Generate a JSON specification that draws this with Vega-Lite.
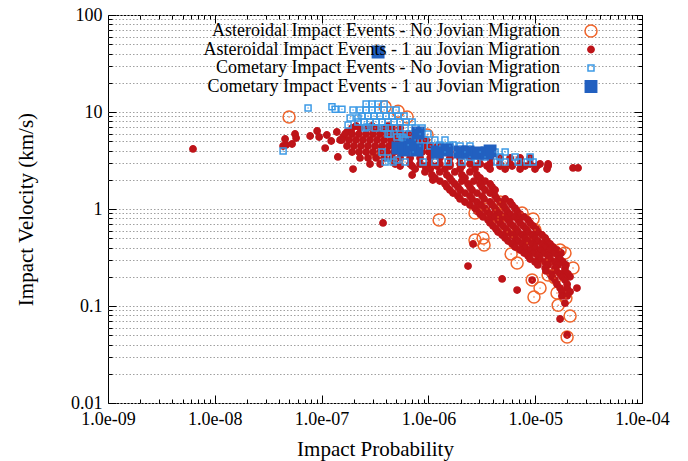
{
  "$schema": "https://vega.github.io/schema/vega-lite/v6.json",
  "width": 534,
  "height": 388,
  "autosize": {"type": "none"},
  "padding": {"left": 108, "top": 15, "right": 46, "bottom": 58},
  "background": "white",
  "config": {
    "font": "Liberation Serif",
    "view": {"stroke": "black", "strokeWidth": 1},
    "axis": {"labelFont": "Liberation Serif", "titleFont": "Liberation Serif", "labelColor": "black", "titleColor": "black", "titleFontWeight": "normal", "tickColor": "black", "domain": false, "labelOverlap": false, "labelFlush": false},
    "legend": {
      "orient": "none", "legendX": 474, "legendY": 7, "padding": 0,
      "labelFont": "Liberation Serif", "labelFontSize": 18, "labelColor": "black",
      "labelAlign": "right", "labelOffset": -40, "labelLimit": 0, "rowPadding": 0.5,
      "symbolStrokeWidth": 1.5, "title": null
    }
  },
  "data": {"values": [
    {"s":"a","p":4.96e-8,"v":8.87},{"s":"a","p":3.93e-7,"v":11.3},{"s":"a","p":5.20e-7,"v":10.2},{"s":"a","p":6.32e-7,"v":8.87},
    {"s":"a","p":9.72e-7,"v":5.79},{"s":"a","p":3.31e-7,"v":3.78},{"s":"a","p":5.08e-7,"v":3.20},{"s":"a","p":1.26e-6,"v":0.77},
    {"s":"a","p":2.73e-6,"v":0.91},{"s":"a","p":3.54e-6,"v":1.0},{"s":"a","p":4.69e-6,"v":1.18},{"s":"a","p":4.49e-6,"v":0.828},
    {"s":"a","p":7.54e-6,"v":0.91},{"s":"a","p":9.56e-6,"v":0.789},{"s":"a","p":2.73e-6,"v":0.479},{"s":"a","p":3.25e-6,"v":0.502},
    {"s":"a","p":3.32e-6,"v":0.426},{"s":"a","p":5.95e-6,"v":0.344},{"s":"a","p":6.08e-6,"v":0.514},{"s":"a","p":6.77e-6,"v":0.277},
    {"s":"a","p":5.46e-6,"v":0.579},{"s":"a","p":9.36e-6,"v":0.185},{"s":"a","p":1.11e-5,"v":0.153},{"s":"a","p":9.74e-6,"v":0.124},
    {"s":"a","p":1.60e-5,"v":0.136},{"s":"a","p":1.64e-5,"v":0.102},{"s":"a","p":2.12e-5,"v":0.0788},{"s":"a","p":1.99e-5,"v":0.0479},
    {"s":"a","p":2.26e-5,"v":0.246},{"s":"a","p":1.71e-5,"v":0.378},{"s":"a","p":1.47e-5,"v":0.235},{"s":"a","p":1.32e-5,"v":0.209},
    {"s":"a","p":1.29e-5,"v":0.298},{"s":"a","p":8.40e-6,"v":0.446},{"s":"a","p":9.96e-6,"v":0.608},{"s":"a","p":1.90e-5,"v":0.352},
    {"s":"a","p":5.00e-6,"v":0.867},{"s":"a","p":4.21e-6,"v":0.977},{"s":"a","p":1.94e-5,"v":0.121},{"s":"a","p":1.53e-5,"v":0.194},
    {"s":"a","p":4.49e-6,"v":0.77},

    {"s":"b","p":6.25e-9,"v":4.16},{"s":"b","p":4.36e-8,"v":4.46},{"s":"b","p":4.55e-8,"v":5.27},{"s":"b","p":4.65e-8,"v":4.57},
    {"s":"b","p":5.29e-8,"v":4.68},{"s":"b","p":5.64e-8,"v":5.93},{"s":"b","p":5.77e-8,"v":5.39},{"s":"b","p":7.81e-8,"v":5.66},
    {"s":"b","p":9.08e-8,"v":6.37},{"s":"b","p":9.48e-8,"v":5.52},{"s":"b","p":1.08e-7,"v":4.25},{"s":"b","p":1.12e-7,"v":5.79},
    {"s":"b","p":1.23e-7,"v":5.02},{"s":"b","p":1.39e-7,"v":6.22},{"s":"b","p":1.42e-7,"v":3.44},{"s":"b","p":1.49e-7,"v":5.14},
    {"s":"b","p":1.59e-7,"v":5.52},{"s":"b","p":1.73e-7,"v":6.22},{"s":"b","p":1.97e-7,"v":2.58},
    {"s":"b","p":2.10e-7,"v":7.17},{"s":"b","p":2.96e-7,"v":7.17},{"s":"b","p":4.19e-7,"v":7.17},
    {"s":"b","p":1.93e-7,"v":6.84},{"s":"b","p":2.29e-7,"v":6.84},{"s":"b","p":2.72e-7,"v":6.84},{"s":"b","p":3.24e-7,"v":6.84},{"s":"b","p":3.85e-7,"v":6.84},{"s":"b","p":4.57e-7,"v":6.84},{"s":"b","p":5.43e-7,"v":6.84},
    {"s":"b","p":1.66e-7,"v":5.93},{"s":"b","p":1.93e-7,"v":5.93},{"s":"b","p":2.24e-7,"v":5.93},{"s":"b","p":2.61e-7,"v":5.93},{"s":"b","p":3.03e-7,"v":5.93},{"s":"b","p":3.53e-7,"v":5.93},{"s":"b","p":4.10e-7,"v":5.93},{"s":"b","p":4.77e-7,"v":5.93},{"s":"b","p":5.55e-7,"v":5.93},{"s":"b","p":6.46e-7,"v":5.93},{"s":"b","p":7.51e-7,"v":5.93},
    {"s":"b","p":1.55e-7,"v":5.14},{"s":"b","p":1.81e-7,"v":5.14},{"s":"b","p":2.10e-7,"v":5.14},{"s":"b","p":2.44e-7,"v":5.14},{"s":"b","p":2.84e-7,"v":5.14},{"s":"b","p":3.31e-7,"v":5.14},{"s":"b","p":3.85e-7,"v":5.14},{"s":"b","p":4.47e-7,"v":5.14},{"s":"b","p":5.20e-7,"v":5.14},{"s":"b","p":6.05e-7,"v":5.14},{"s":"b","p":7.04e-7,"v":5.14},{"s":"b","p":8.19e-7,"v":5.14},{"s":"b","p":9.52e-7,"v":5.14},
    {"s":"b","p":1.73e-7,"v":4.46},{"s":"b","p":2.01e-7,"v":4.46},{"s":"b","p":2.34e-7,"v":4.46},{"s":"b","p":2.72e-7,"v":4.46},{"s":"b","p":3.17e-7,"v":4.46},{"s":"b","p":3.68e-7,"v":4.46},{"s":"b","p":4.28e-7,"v":4.46},{"s":"b","p":4.98e-7,"v":4.46},{"s":"b","p":5.80e-7,"v":4.46},{"s":"b","p":6.74e-7,"v":4.46},{"s":"b","p":7.84e-7,"v":4.46},{"s":"b","p":9.12e-7,"v":4.46},{"s":"b","p":1.06e-6,"v":4.46},{"s":"b","p":1.23e-6,"v":4.46},
    {"s":"b","p":1.93e-7,"v":3.87},{"s":"b","p":2.24e-7,"v":3.87},{"s":"b","p":2.61e-7,"v":3.87},{"s":"b","p":3.03e-7,"v":3.87},{"s":"b","p":3.53e-7,"v":3.87},{"s":"b","p":4.10e-7,"v":3.87},{"s":"b","p":4.77e-7,"v":3.87},{"s":"b","p":5.55e-7,"v":3.87},{"s":"b","p":6.46e-7,"v":3.87},{"s":"b","p":7.51e-7,"v":3.87},{"s":"b","p":8.73e-7,"v":3.87},{"s":"b","p":1.01e-6,"v":3.87},{"s":"b","p":1.18e-6,"v":3.87},{"s":"b","p":1.37e-6,"v":3.87},{"s":"b","p":1.59e-6,"v":3.87},
    {"s":"b","p":2.29e-7,"v":3.36},{"s":"b","p":2.72e-7,"v":3.36},{"s":"b","p":3.24e-7,"v":3.36},{"s":"b","p":3.85e-7,"v":3.36},{"s":"b","p":4.57e-7,"v":3.36},{"s":"b","p":5.43e-7,"v":3.36},{"s":"b","p":6.74e-7,"v":3.36},{"s":"b","p":8.36e-7,"v":3.36},{"s":"b","p":1.04e-6,"v":3.36},{"s":"b","p":1.28e-6,"v":3.36},{"s":"b","p":1.59e-6,"v":3.36},{"s":"b","p":1.98e-6,"v":3.36},{"s":"b","p":2.45e-6,"v":3.36},{"s":"b","p":3.05e-6,"v":3.36},{"s":"b","p":3.78e-6,"v":3.36},{"s":"b","p":4.69e-6,"v":3.36},{"s":"b","p":5.82e-6,"v":3.36},{"s":"b","p":7.22e-6,"v":3.36},{"s":"b","p":8.96e-6,"v":3.36},
    {"s":"b","p":2.84e-7,"v":2.91},{"s":"b","p":3.53e-7,"v":2.91},{"s":"b","p":4.88e-7,"v":2.91},{"s":"b","p":6.74e-7,"v":2.91},{"s":"b","p":8.36e-7,"v":2.91},{"s":"b","p":1.04e-6,"v":2.91},{"s":"b","p":1.28e-6,"v":2.91},{"s":"b","p":1.59e-6,"v":2.91},{"s":"b","p":1.98e-6,"v":2.91},{"s":"b","p":2.45e-6,"v":2.91},{"s":"b","p":3.05e-6,"v":2.91},{"s":"b","p":3.78e-6,"v":2.91},{"s":"b","p":4.69e-6,"v":2.91},{"s":"b","p":5.82e-6,"v":2.91},{"s":"b","p":7.22e-6,"v":2.91},{"s":"b","p":8.96e-6,"v":2.91},{"s":"b","p":1.11e-5,"v":2.91},{"s":"b","p":1.32e-5,"v":2.91},
    {"s":"b","p":5.43e-7,"v":2.77},{"s":"b","p":7.04e-7,"v":2.77},{"s":"b","p":9.29e-7,"v":2.77},{"s":"b","p":1.20e-6,"v":2.77},{"s":"b","p":1.59e-6,"v":2.77},{"s":"b","p":2.06e-6,"v":2.77},{"s":"b","p":2.73e-6,"v":2.77},{"s":"b","p":3.54e-6,"v":2.77},{"s":"b","p":4.69e-6,"v":2.77},{"s":"b","p":6.08e-6,"v":2.77},{"s":"b","p":8.04e-6,"v":2.77},{"s":"b","p":1.04e-5,"v":2.77},{"s":"b","p":1.32e-5,"v":2.77},
    {"s":"b","p":7.51e-7,"v":2.58},{"s":"b","p":1.04e-6,"v":2.58},{"s":"b","p":1.43e-6,"v":2.58},{"s":"b","p":1.98e-6,"v":2.58},{"s":"b","p":2.73e-6,"v":2.58},{"s":"b","p":3.78e-6,"v":2.58},{"s":"b","p":5.23e-6,"v":2.58},{"s":"b","p":7.22e-6,"v":2.58},{"s":"b","p":9.96e-6,"v":2.58},{"s":"b","p":1.29e-5,"v":2.58},
    {"s":"b","p":2.26e-5,"v":2.65},{"s":"b","p":2.52e-5,"v":2.65},
    {"s":"b","p":7.04e-7,"v":2.24},{"s":"b","p":1.10e-6,"v":1.99},{"s":"b","p":3.76e-7,"v":0.718},{"s":"b","p":2.35e-6,"v":0.258},{"s":"b","p":4.90e-6,"v":0.19},{"s":"b","p":6.77e-6,"v":0.146},{"s":"b","p":9.36e-6,"v":0.185},{"s":"b","p":2.62e-6,"v":0.436},
    {"s":"b","p":9.29e-7,"v":2.41},{"s":"b","p":1.28e-6,"v":2.41},{"s":"b","p":1.77e-6,"v":2.41},{"s":"b","p":2.45e-6,"v":2.41},
    {"s":"b","p":1.08e-6,"v":2.24},{"s":"b","p":1.49e-6,"v":2.24},{"s":"b","p":2.06e-6,"v":2.24},{"s":"b","p":2.85e-6,"v":2.24},
    {"s":"b","p":1.15e-6,"v":2.09},{"s":"b","p":1.59e-6,"v":2.09},{"s":"b","p":2.20e-6,"v":2.09},{"s":"b","p":3.05e-6,"v":2.09},
    {"s":"b","p":1.28e-6,"v":1.94},{"s":"b","p":1.66e-6,"v":1.94},{"s":"b","p":2.06e-6,"v":1.94},{"s":"b","p":2.67e-6,"v":1.94},{"s":"b","p":3.39e-6,"v":1.94},
    {"s":"b","p":1.43e-6,"v":1.81},{"s":"b","p":1.77e-6,"v":1.81},{"s":"b","p":2.35e-6,"v":1.81},{"s":"b","p":3.05e-6,"v":1.81},{"s":"b","p":3.78e-6,"v":1.81},
    {"s":"b","p":1.49e-6,"v":1.69},{"s":"b","p":1.89e-6,"v":1.69},{"s":"b","p":2.45e-6,"v":1.69},{"s":"b","p":3.18e-6,"v":1.69},{"s":"b","p":3.95e-6,"v":1.69},
    {"s":"b","p":1.59e-6,"v":1.57},{"s":"b","p":1.98e-6,"v":1.57},{"s":"b","p":2.56e-6,"v":1.57},{"s":"b","p":3.39e-6,"v":1.57},{"s":"b","p":4.21e-6,"v":1.57},
    {"s":"b","p":1.70e-6,"v":1.46},{"s":"b","p":2.20e-6,"v":1.46},{"s":"b","p":2.85e-6,"v":1.46},{"s":"b","p":3.78e-6,"v":1.46},
    {"s":"b","p":1.89e-6,"v":1.36},{"s":"b","p":2.45e-6,"v":1.36},{"s":"b","p":3.18e-6,"v":1.36},{"s":"b","p":4.21e-6,"v":1.36},
    {"s":"b","p":1.98e-6,"v":1.27},{"s":"b","p":2.56e-6,"v":1.27},{"s":"b","p":3.32e-6,"v":1.27},{"s":"b","p":4.39e-6,"v":1.27},{"s":"b","p":5.23e-6,"v":1.27},
    {"s":"b","p":2.20e-6,"v":1.18},{"s":"b","p":2.85e-6,"v":1.18},{"s":"b","p":3.78e-6,"v":1.18},{"s":"b","p":4.69e-6,"v":1.18},{"s":"b","p":5.82e-6,"v":1.18},
    {"s":"b","p":2.45e-6,"v":1.10},{"s":"b","p":3.11e-6,"v":1.10},{"s":"b","p":3.95e-6,"v":1.10},{"s":"b","p":5.00e-6,"v":1.10},{"s":"b","p":6.08e-6,"v":1.10},
    {"s":"b","p":2.73e-6,"v":1.02},{"s":"b","p":3.39e-6,"v":1.02},{"s":"b","p":4.21e-6,"v":1.02},{"s":"b","p":5.23e-6,"v":1.02},{"s":"b","p":6.48e-6,"v":1.02},
    {"s":"b","p":2.85e-6,"v":0.95},{"s":"b","p":3.54e-6,"v":0.95},{"s":"b","p":4.39e-6,"v":0.95},{"s":"b","p":5.46e-6,"v":0.95},{"s":"b","p":6.77e-6,"v":0.95},
    {"s":"b","p":3.05e-6,"v":0.887},{"s":"b","p":3.78e-6,"v":0.887},{"s":"b","p":4.69e-6,"v":0.887},{"s":"b","p":5.82e-6,"v":0.887},{"s":"b","p":7.22e-6,"v":0.887},
    {"s":"b","p":3.25e-6,"v":0.828},{"s":"b","p":4.12e-6,"v":0.828},{"s":"b","p":5.11e-6,"v":0.828},{"s":"b","p":6.34e-6,"v":0.828},{"s":"b","p":7.87e-6,"v":0.828},
    {"s":"b","p":3.62e-6,"v":0.77},{"s":"b","p":4.49e-6,"v":0.77},{"s":"b","p":5.58e-6,"v":0.77},{"s":"b","p":6.92e-6,"v":0.77},{"s":"b","p":8.58e-6,"v":0.77},
    {"s":"b","p":3.78e-6,"v":0.718},{"s":"b","p":4.69e-6,"v":0.718},{"s":"b","p":5.82e-6,"v":0.718},{"s":"b","p":7.22e-6,"v":0.718},{"s":"b","p":8.96e-6,"v":0.718},
    {"s":"b","p":4.03e-6,"v":0.668},{"s":"b","p":5.00e-6,"v":0.668},{"s":"b","p":6.21e-6,"v":0.668},{"s":"b","p":7.71e-6,"v":0.668},{"s":"b","p":9.56e-6,"v":0.668},
    {"s":"b","p":4.30e-6,"v":0.62},{"s":"b","p":5.34e-6,"v":0.62},{"s":"b","p":6.63e-6,"v":0.62},{"s":"b","p":8.22e-6,"v":0.62},{"s":"b","p":1.02e-5,"v":0.62},
    {"s":"b","p":4.49e-6,"v":0.579},{"s":"b","p":5.58e-6,"v":0.579},{"s":"b","p":6.92e-6,"v":0.579},{"s":"b","p":8.58e-6,"v":0.579},{"s":"b","p":1.06e-5,"v":0.579},
    {"s":"b","p":4.90e-6,"v":0.54},{"s":"b","p":6.08e-6,"v":0.54},{"s":"b","p":7.54e-6,"v":0.54},{"s":"b","p":9.36e-6,"v":0.54},{"s":"b","p":1.16e-5,"v":0.54},
    {"s":"b","p":5.23e-6,"v":0.502},{"s":"b","p":6.48e-6,"v":0.502},{"s":"b","p":8.04e-6,"v":0.502},{"s":"b","p":9.96e-6,"v":0.502},{"s":"b","p":1.24e-5,"v":0.502},
    {"s":"b","p":5.58e-6,"v":0.467},{"s":"b","p":6.92e-6,"v":0.467},{"s":"b","p":8.58e-6,"v":0.467},{"s":"b","p":1.06e-5,"v":0.467},{"s":"b","p":1.29e-5,"v":0.467},
    {"s":"b","p":6.08e-6,"v":0.436},{"s":"b","p":7.54e-6,"v":0.436},{"s":"b","p":9.36e-6,"v":0.436},{"s":"b","p":1.16e-5,"v":0.436},{"s":"b","p":1.38e-5,"v":0.436},
    {"s":"b","p":6.48e-6,"v":0.406},{"s":"b","p":8.04e-6,"v":0.406},{"s":"b","p":9.96e-6,"v":0.406},{"s":"b","p":1.24e-5,"v":0.406},{"s":"b","p":1.47e-5,"v":0.406},
    {"s":"b","p":7.22e-6,"v":0.378},{"s":"b","p":8.96e-6,"v":0.378},{"s":"b","p":1.11e-5,"v":0.378},{"s":"b","p":1.38e-5,"v":0.378},{"s":"b","p":1.60e-5,"v":0.378},
    {"s":"b","p":7.87e-6,"v":0.352},{"s":"b","p":9.74e-6,"v":0.352},{"s":"b","p":1.21e-5,"v":0.352},{"s":"b","p":1.50e-5,"v":0.352},{"s":"b","p":1.75e-5,"v":0.352},
    {"s":"b","p":8.58e-6,"v":0.327},{"s":"b","p":1.06e-5,"v":0.327},{"s":"b","p":1.32e-5,"v":0.327},{"s":"b","p":1.64e-5,"v":0.327},
    {"s":"b","p":8.96e-6,"v":0.305},{"s":"b","p":1.11e-5,"v":0.305},{"s":"b","p":1.38e-5,"v":0.305},{"s":"b","p":1.71e-5,"v":0.305},
    {"s":"b","p":9.96e-6,"v":0.284},{"s":"b","p":1.24e-5,"v":0.284},{"s":"b","p":1.53e-5,"v":0.284},{"s":"b","p":1.82e-5,"v":0.284},
    {"s":"b","p":1.06e-5,"v":0.265},{"s":"b","p":1.32e-5,"v":0.265},{"s":"b","p":1.64e-5,"v":0.265},{"s":"b","p":1.94e-5,"v":0.265},
    {"s":"b","p":1.24e-5,"v":0.246},{"s":"b","p":1.53e-5,"v":0.246},{"s":"b","p":1.90e-5,"v":0.246},
    {"s":"b","p":1.26e-5,"v":0.23},{"s":"b","p":1.57e-5,"v":0.23},{"s":"b","p":1.90e-5,"v":0.23},
    {"s":"b","p":1.38e-5,"v":0.214},{"s":"b","p":1.71e-5,"v":0.214},{"s":"b","p":2.03e-5,"v":0.214},
    {"s":"b","p":1.44e-5,"v":0.2},{"s":"b","p":1.78e-5,"v":0.2},{"s":"b","p":2.12e-5,"v":0.2},
    {"s":"b","p":1.53e-5,"v":0.185},{"s":"b","p":1.90e-5,"v":0.185},
    {"s":"b","p":1.60e-5,"v":0.168},{"s":"b","p":1.99e-5,"v":0.168},
    {"s":"b","p":1.71e-5,"v":0.153},{"s":"b","p":1.99e-5,"v":0.153},{"s":"b","p":2.46e-5,"v":0.153},
    {"s":"b","p":1.78e-5,"v":0.14},{"s":"b","p":2.12e-5,"v":0.14},
    {"s":"b","p":1.78e-5,"v":0.127},{"s":"b","p":1.99e-5,"v":0.127},{"s":"b","p":1.90e-5,"v":0.107},
    {"s":"b","p":1.71e-5,"v":0.0734},{"s":"b","p":1.99e-5,"v":0.0502},

    {"s":"c","p":4.36e-8,"v":3.96},{"s":"c","p":7.47e-8,"v":11.0},{"s":"c","p":1.25e-7,"v":11.3},{"s":"c","p":1.34e-7,"v":10.7},
    {"s":"c","p":1.55e-7,"v":10.7},{"s":"c","p":1.97e-7,"v":10.5},{"s":"c","p":1.85e-7,"v":8.67},{"s":"c","p":1.77e-7,"v":7.35},{"s":"c","p":2.19e-7,"v":8.67},
    {"s":"c","p":2.61e-7,"v":12.1},{"s":"c","p":2.96e-7,"v":12.1},{"s":"c","p":3.38e-7,"v":12.1},{"s":"c","p":3.85e-7,"v":12.1},
    {"s":"c","p":2.29e-7,"v":10.5},{"s":"c","p":2.61e-7,"v":10.5},{"s":"c","p":2.96e-7,"v":10.5},{"s":"c","p":3.38e-7,"v":10.5},{"s":"c","p":3.85e-7,"v":10.5},{"s":"c","p":4.38e-7,"v":10.5},{"s":"c","p":4.98e-7,"v":10.5},
    {"s":"c","p":2.39e-7,"v":9.10},{"s":"c","p":2.72e-7,"v":9.10},{"s":"c","p":3.09e-7,"v":9.10},{"s":"c","p":3.53e-7,"v":9.10},{"s":"c","p":4.01e-7,"v":9.10},{"s":"c","p":4.57e-7,"v":9.10},{"s":"c","p":5.20e-7,"v":9.10},{"s":"c","p":5.92e-7,"v":9.10},
    {"s":"c","p":2.19e-7,"v":7.88},{"s":"c","p":2.50e-7,"v":7.88},{"s":"c","p":2.84e-7,"v":7.88},{"s":"c","p":3.24e-7,"v":7.88},{"s":"c","p":3.68e-7,"v":7.88},{"s":"c","p":4.19e-7,"v":7.88},{"s":"c","p":4.77e-7,"v":7.88},{"s":"c","p":5.43e-7,"v":7.88},{"s":"c","p":6.18e-7,"v":7.88},{"s":"c","p":7.04e-7,"v":7.88},
    {"s":"c","p":2.55e-7,"v":6.84},{"s":"c","p":3.17e-7,"v":6.84},{"s":"c","p":3.93e-7,"v":6.84},{"s":"c","p":4.88e-7,"v":6.84},{"s":"c","p":6.05e-7,"v":6.84},{"s":"c","p":7.51e-7,"v":6.84},{"s":"c","p":8.73e-7,"v":6.84},
    {"s":"c","p":4.38e-7,"v":5.93},{"s":"c","p":5.43e-7,"v":5.93},{"s":"c","p":6.74e-7,"v":5.93},{"s":"c","p":8.36e-7,"v":5.93},{"s":"c","p":9.90e-7,"v":5.93},
    {"s":"c","p":6.05e-7,"v":5.14},{"s":"c","p":7.51e-7,"v":5.14},{"s":"c","p":9.29e-7,"v":5.14},{"s":"c","p":1.15e-6,"v":5.14},{"s":"c","p":1.43e-6,"v":5.14},
    {"s":"c","p":8.36e-7,"v":4.46},{"s":"c","p":1.04e-6,"v":4.46},{"s":"c","p":1.28e-6,"v":4.46},{"s":"c","p":1.59e-6,"v":4.46},{"s":"c","p":1.98e-6,"v":4.46},{"s":"c","p":2.45e-6,"v":4.46},
    {"s":"c","p":1.43e-6,"v":3.87},{"s":"c","p":1.77e-6,"v":3.87},{"s":"c","p":2.20e-6,"v":3.87},{"s":"c","p":3.05e-6,"v":3.87},{"s":"c","p":4.21e-6,"v":3.87},{"s":"c","p":5.23e-6,"v":3.87},
    {"s":"c","p":2.45e-6,"v":3.44},{"s":"c","p":3.39e-6,"v":3.44},{"s":"c","p":4.69e-6,"v":3.44},{"s":"c","p":6.48e-6,"v":3.44},{"s":"c","p":8.96e-6,"v":3.44},
    {"s":"c","p":3.93e-7,"v":3.05},{"s":"c","p":4.67e-7,"v":3.05},{"s":"c","p":6.05e-7,"v":3.05},{"s":"c","p":8.92e-7,"v":3.05},{"s":"c","p":1.15e-6,"v":3.05},{"s":"c","p":1.53e-6,"v":3.05},{"s":"c","p":2.06e-6,"v":3.05},{"s":"c","p":2.85e-6,"v":3.05},{"s":"c","p":4.39e-6,"v":3.05},{"s":"c","p":5.23e-6,"v":3.05},{"s":"c","p":6.92e-6,"v":3.05},{"s":"c","p":8.40e-6,"v":3.05},{"s":"c","p":9.56e-6,"v":3.05},
    {"s":"c","p":2.66e-7,"v":7.0},{"s":"c","p":3.76e-7,"v":6.84},{"s":"c","p":4.19e-7,"v":5.93},{"s":"c","p":5.08e-7,"v":5.52},{"s":"c","p":5.67e-7,"v":5.52},
    {"s":"c","p":3.68e-7,"v":3.87},{"s":"c","p":4.19e-7,"v":3.36},{"s":"c","p":5.08e-7,"v":3.20},{"s":"c","p":7.19e-7,"v":3.87},{"s":"c","p":5.80e-7,"v":5.39},
    {"s":"c","p":6.46e-7,"v":4.57},{"s":"c","p":1.28e-6,"v":4.57},{"s":"c","p":1.70e-6,"v":4.57},

    {"s":"d","p":5.19e-7,"v":4.25},{"s":"d","p":5.91e-7,"v":4.06},{"s":"d","p":7.81e-7,"v":4.06},{"s":"d","p":8.0e-7,"v":6.08},
    {"s":"d","p":1.21e-6,"v":3.87},{"s":"d","p":1.49e-6,"v":4.06},{"s":"d","p":1.98e-6,"v":3.87},{"s":"d","p":2.35e-6,"v":3.87},
    {"s":"d","p":2.85e-6,"v":3.78},{"s":"d","p":3.54e-6,"v":3.78},{"s":"d","p":3.78e-6,"v":3.96},{"s":"d","p":6.73e-7,"v":4.57},
    {"s":"d","p":3.38e-7,"v":41.6}
  ]},
  "layer": [
    {
      "mark": {"type": "point", "strokeWidth": 1.5, "opacity": 1},
      "encoding": {
        "x": {"field": "p", "type": "quantitative",
          "scale": {"type": "log", "domain": [1e-9, 1e-4], "nice": false},
          "axis": {"orient": "bottom", "title": "Impact Probability", "titleFontSize": 21, "titlePadding": 6,
            "labelFontSize": 18, "labelPadding": 15, "grid": false,
            "values": [1e-9,2e-9,3e-9,4e-9,5e-9,6e-9,7e-9,8e-9,9e-9,1e-8,2e-8,3e-8,4e-8,5e-8,6e-8,7e-8,8e-8,9e-8,1e-7,2e-7,3e-7,4e-7,5e-7,6e-7,7e-7,8e-7,9e-7,1e-6,2e-6,3e-6,4e-6,5e-6,6e-6,7e-6,8e-6,9e-6,1e-5,2e-5,3e-5,4e-5,5e-5,6e-5,7e-5,8e-5,9e-5,1e-4],
            "labelExpr": "abs(log(datum.value)/LN10 - round(log(datum.value)/LN10)) < 0.001 ? '1.0e-0' + (-round(log(datum.value)/LN10)) : ''",
            "tickSize": {"condition": {"test": "abs(log(datum.value)/LN10 - round(log(datum.value)/LN10)) < 0.001", "value": -8}, "value": -4}}},
        "y": {"field": "v", "type": "quantitative",
          "scale": {"type": "log", "domain": [0.01, 100], "nice": false},
          "axis": {"orient": "left", "title": "Impact Velocity (km/s)", "titleFontSize": 21, "titlePadding": 34,
            "labelFontSize": 18, "labelPadding": 14, "grid": true, "gridColor": "#a0a0a0", "gridDash": [1.5, 2], "gridWidth": 1,
            "values": [0.01,0.02,0.03,0.04,0.05,0.06,0.07,0.08,0.09,0.1,0.2,0.3,0.4,0.5,0.6,0.7,0.8,0.9,1,2,3,4,5,6,7,8,9,10,20,30,40,50,60,70,80,90,100],
            "labelExpr": "abs(log(datum.value)/LN10 - round(log(datum.value)/LN10)) < 0.001 ? format(datum.value, '~g') : ''",
            "tickSize": {"condition": {"test": "abs(log(datum.value)/LN10 - round(log(datum.value)/LN10)) < 0.001", "value": -8}, "value": -4}}},
        "shape": {"field": "s", "type": "nominal", "scale": {"domain": ["a","b","c","d"], "range": ["circle","circle","square","square"]},
          "legend": {"labelExpr": "datum.label === 'a' ? 'Asteroidal Impact Events - No Jovian Migration' : datum.label === 'b' ? 'Asteroidal Impact Events - 1 au Jovian Migration' : datum.label === 'c' ? 'Cometary Impact Events - No Jovian Migration' : 'Cometary Impact Events - 1 au Jovian Migration'"}},
        "fill": {"field": "s", "type": "nominal", "scale": {"domain": ["a","b","c","d"], "range": ["transparent","#BE1419","transparent","#2260C0"]},
          "legend": {"labelExpr": "datum.label === 'a' ? 'Asteroidal Impact Events - No Jovian Migration' : datum.label === 'b' ? 'Asteroidal Impact Events - 1 au Jovian Migration' : datum.label === 'c' ? 'Cometary Impact Events - No Jovian Migration' : 'Cometary Impact Events - 1 au Jovian Migration'"}},
        "stroke": {"field": "s", "type": "nominal", "scale": {"domain": ["a","b","c","d"], "range": ["#F0642A","#BE1419","#3C9AE6","#2260C0"]},
          "legend": {"labelExpr": "datum.label === 'a' ? 'Asteroidal Impact Events - No Jovian Migration' : datum.label === 'b' ? 'Asteroidal Impact Events - 1 au Jovian Migration' : datum.label === 'c' ? 'Cometary Impact Events - No Jovian Migration' : 'Cometary Impact Events - 1 au Jovian Migration'"}},
        "size": {"field": "s", "type": "nominal", "scale": {"type": "ordinal", "domain": ["a","b","c","d"], "range": [144, 40, 36, 130]},
          "legend": {"labelExpr": "datum.label === 'a' ? 'Asteroidal Impact Events - No Jovian Migration' : datum.label === 'b' ? 'Asteroidal Impact Events - 1 au Jovian Migration' : datum.label === 'c' ? 'Cometary Impact Events - No Jovian Migration' : 'Cometary Impact Events - 1 au Jovian Migration'"}}
      }
    },
    {
      "transform": [{"filter": "datum.s === 'a' || datum.s === 'c'"}],
      "mark": {"type": "point", "filled": true, "size": 2, "opacity": 1},
      "encoding": {
        "x": {"field": "p", "type": "quantitative",
          "axis": {"orient": "top", "title": null, "labels": false, "grid": false,
            "values": [1e-9,2e-9,3e-9,4e-9,5e-9,6e-9,7e-9,8e-9,9e-9,1e-8,2e-8,3e-8,4e-8,5e-8,6e-8,7e-8,8e-8,9e-8,1e-7,2e-7,3e-7,4e-7,5e-7,6e-7,7e-7,8e-7,9e-7,1e-6,2e-6,3e-6,4e-6,5e-6,6e-6,7e-6,8e-6,9e-6,1e-5,2e-5,3e-5,4e-5,5e-5,6e-5,7e-5,8e-5,9e-5,1e-4],
            "tickSize": {"condition": {"test": "abs(log(datum.value)/LN10 - round(log(datum.value)/LN10)) < 0.001", "value": -8}, "value": -4}}},
        "y": {"field": "v", "type": "quantitative",
          "axis": {"orient": "right", "title": null, "labels": false, "grid": false,
            "values": [0.01,0.02,0.03,0.04,0.05,0.06,0.07,0.08,0.09,0.1,0.2,0.3,0.4,0.5,0.6,0.7,0.8,0.9,1,2,3,4,5,6,7,8,9,10,20,30,40,50,60,70,80,90,100],
            "tickSize": {"condition": {"test": "abs(log(datum.value)/LN10 - round(log(datum.value)/LN10)) < 0.001", "value": -8}, "value": -4}}},
        "color": {"field": "s", "type": "nominal", "scale": {"domain": ["a","c"], "range": ["#F0642A","#3C9AE6"]}, "legend": null}
      }
    }
  ],
  "resolve": {"axis": {"x": "independent", "y": "independent"}}
}
